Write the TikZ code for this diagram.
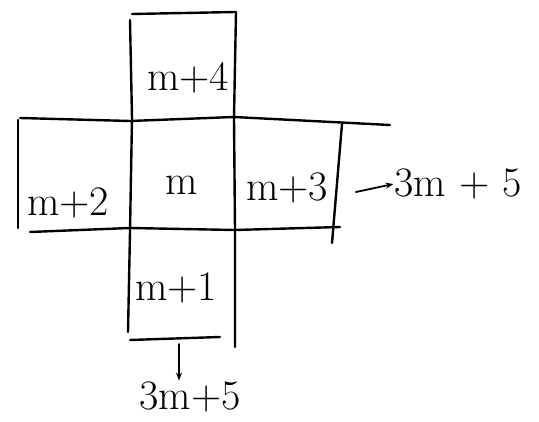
\documentclass[tikz,border=0pt]{standalone}
\usetikzlibrary{arrows.meta}
\begin{document}
\begin{tikzpicture}[x=1pt,y=-1pt,
  pen/.style={line width=2.4pt,line cap=round,black},
  lab/.style={font=\fontsize{42}{46}\selectfont,inner sep=1pt},
  arr/.style={line width=1.8pt,-{Stealth[length=8pt]},line cap=round}]
\useasboundingbox (0,0) rectangle (539,422);
% top box
\draw[pen] (132,14) -- (236,12);
\draw[pen] (130,20) -- (132,118) -- (130,232) -- (128,332);
\draw[pen] (236,12) -- (234,118) -- (235,230) -- (235,347);
% middle row
\draw[pen] (20,118) -- (130,121) -- (234,117) -- (390,125);
\draw[pen] (18,120) -- (18,228);
\draw[pen] (30,232) -- (130,228) -- (235,230) -- (340,227);
\draw[pen] (342,124) -- (332,243);
% bottom box
\draw[pen] (130,340) -- (220,337);
% labels
\node[lab] (a) at (188,78) {m+4};
\node[lab] (b) at (68,203) {m+2};
\node[lab] (c) at (182,185) {m};
\node[lab] (d) at (287,188) {m+3};
\node[lab] (e) at (458,184) {3m + 5};
\node[lab] (f) at (176,288) {m+1};
\node[lab] (g) at (190,397) {3m+5};
\coordinate (e0) at (356,192);
\draw[arr] (e0) -- (e.west);
\coordinate (g0) at (179,344);
\draw[arr] (g0) -- (g.north-|g0);
\end{tikzpicture}
\end{document}
